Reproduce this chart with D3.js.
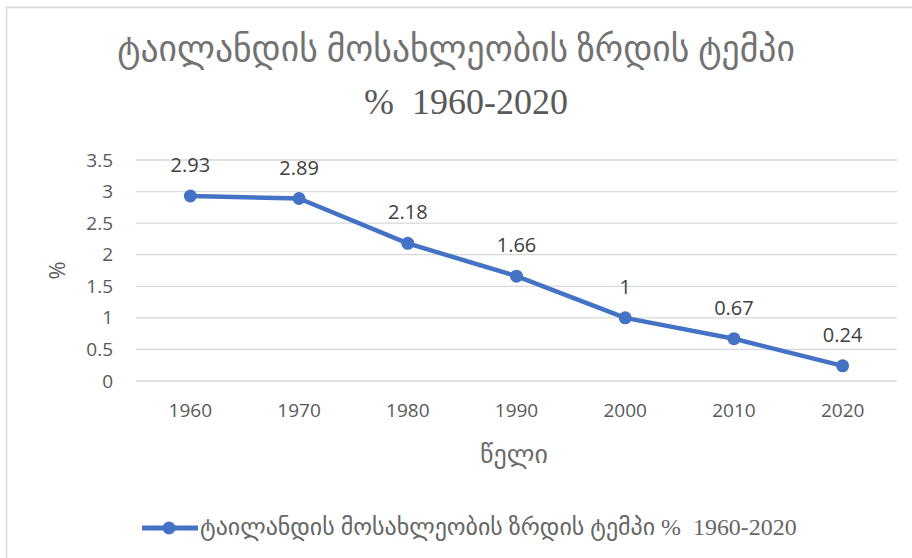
<!DOCTYPE html>
<html>
<head>
<meta charset="utf-8">
<script src="https://cdn.jsdelivr.net/npm/d3@7"></script>
<style>
  body { margin: 0; background: #fff; }
  svg text { fill: #595959; white-space: pre; }
</style>
</head>
<body>
<div id="chart"></div>
<script>
// chart data
var years = ["1960", "1970", "1980", "1990", "2000", "2010", "2020"];
var growth = [2.93, 2.89, 2.18, 1.66, 1, 0.67, 0.24];
var yTicks = [0, 0.5, 1, 1.5, 2, 2.5, 3, 3.5];

var titleLine1 = "ტაილანდის მოსახლეობის ზრდის ტემპი";
var titleLine2 = "%  1960-2020";
var seriesName = "ტაილანდის მოსახლეობის ზრდის ტემპი %  1960-2020";
var xTitle = "წელი";
var yTitle = "%";

var W = 912, H = 558;
var margin = { top: 160, right: 15, bottom: 177, left: 136 };
var width = W - margin.left - margin.right,
    height = H - margin.top - margin.bottom;

// Georgian glyphs fall back to DejaVu, digits stay in the serif face
var geoFont = "'Liberation Serif', 'DejaVu Sans', serif";
var numFont = "'Open Sans', 'Liberation Sans', sans-serif";

// scale a text's font size so it takes the wanted width
function fitWidth(sel, target) {
  var fs = parseFloat(sel.style("font-size"));
  var w = sel.node().getComputedTextLength();
  sel.style("font-size", (fs * target / w) + "px");
}

var svg = d3.select("#chart").append("svg")
  .attr("width", W)
  .attr("height", H);

// outer border (right and bottom edges fall outside the picture)
svg.append("rect")
  .attr("x", 6.5).attr("y", 7.5)
  .attr("width", W).attr("height", H)
  .attr("fill", "#fff")
  .attr("stroke", "#d9d9d9")
  .attr("stroke-width", 1.5);

// title
var t1 = svg.append("text")
  .attr("x", 456).attr("y", 61)
  .attr("text-anchor", "middle")
  .style("font-family", geoFont)
  .style("font-size", "30px")
  .style("fill", "#727272")
  .text(titleLine1);
fitWidth(t1, 678);

svg.append("text")
  .attr("x", 466).attr("y", 114)
  .attr("text-anchor", "middle")
  .style("font-family", geoFont)
  .style("font-size", "36px")
  .style("fill", "#595959")
  .text(titleLine2);

var g = svg.append("g")
  .attr("transform", "translate(" + margin.left + "," + margin.top + ")");

var x = d3.scaleBand()
  .domain(years)
  .range([0, width]);

var y = d3.scaleLinear()
  .domain([0, 3.5])
  .range([height, 0]);

// gridlines
g.append("g")
  .attr("class", "grid")
  .selectAll("line")
  .data(yTicks)
  .enter().append("line")
  .attr("x1", 0).attr("x2", width)
  .attr("y1", function(d) { return y(d); })
  .attr("y2", function(d) { return y(d); })
  .attr("stroke", "#d9d9d9")
  .attr("stroke-width", 1.3);

// y axis
var yAxis = d3.axisLeft(y).tickValues(yTicks).tickSize(0).tickPadding(23)
  .tickFormat(function(d) { return String(d); });
var yG = g.append("g").call(yAxis);
yG.select(".domain").remove();
yG.selectAll("text")
  .style("font-family", numFont)
  .style("font-size", "19px")
  .attr("fill", "#595959");

// x axis
var xAxis = d3.axisBottom(x).tickSize(0).tickPadding(23);
var xG = g.append("g")
  .attr("transform", "translate(0," + height + ")")
  .call(xAxis);
xG.select(".domain").remove();
xG.selectAll("text")
  .style("font-family", numFont)
  .style("font-size", "19px")
  .attr("fill", "#595959");

// axis titles
svg.append("text")
  .attr("transform", "translate(65," + (margin.top + height / 2) + ") rotate(-90)")
  .attr("text-anchor", "middle")
  .style("font-family", numFont)
  .style("font-size", "22px")
  .text(yTitle);

var xt = svg.append("text")
  .attr("x", 514).attr("y", 463)
  .attr("text-anchor", "middle")
  .style("font-family", geoFont)
  .style("font-size", "20px")
  .style("fill", "#6c6c6c")
  .text(xTitle);
fitWidth(xt, 68);

// line
var line = d3.line()
  .x(function(d, i) { return x(years[i]) + x.bandwidth() / 2; })
  .y(function(d) { return y(d); });

g.append("path")
  .datum(growth)
  .attr("fill", "none")
  .attr("stroke", "#4472c4")
  .attr("stroke-width", 4.5)
  .attr("stroke-linejoin", "round")
  .attr("d", line);

g.selectAll(".dot")
  .data(growth)
  .enter().append("circle")
  .attr("class", "dot")
  .attr("cx", function(d, i) { return x(years[i]) + x.bandwidth() / 2; })
  .attr("cy", function(d) { return y(d); })
  .attr("r", 6.5)
  .attr("fill", "#4472c4");

// data labels
g.selectAll(".lbl")
  .data(growth)
  .enter().append("text")
  .attr("class", "lbl")
  .attr("x", function(d, i) { return x(years[i]) + x.bandwidth() / 2; })
  .attr("y", function(d) { return y(d) - 24; })
  .attr("text-anchor", "middle")
  .style("font-family", numFont)
  .style("font-size", "20px")
  .style("fill", "#404040")
  .text(function(d) { return String(d); });

// legend
var lg = svg.append("g").attr("transform", "translate(142,528)");
lg.append("line")
  .attr("x1", 0).attr("x2", 56)
  .attr("stroke", "#4472c4")
  .attr("stroke-width", 5);
lg.append("circle")
  .attr("cx", 27).attr("r", 6.5)
  .attr("fill", "#4472c4");
var lt = lg.append("text")
  .attr("x", 58).attr("y", 7)
  .style("font-family", geoFont)
  .style("font-size", "18px")
  .style("fill", "#666")
  .text(seriesName);
fitWidth(lt, 597);
</script>
</body>
</html>
